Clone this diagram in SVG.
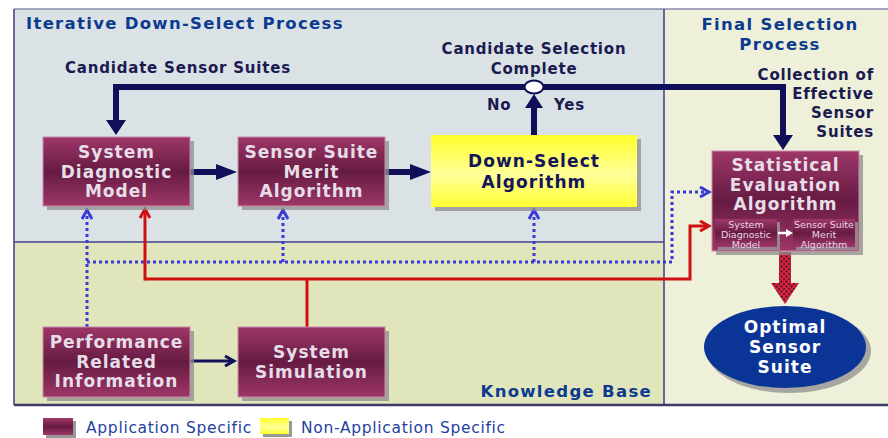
<svg xmlns="http://www.w3.org/2000/svg" width="888" height="438" viewBox="0 0 888 438">
<defs>
<linearGradient id="gp" x1="0" y1="0" x2="0" y2="1">
<stop offset="0" stop-color="#9e3769"/><stop offset="0.5" stop-color="#661b42"/><stop offset="1" stop-color="#9e3769"/>
</linearGradient>
<linearGradient id="gy" x1="0" y1="0" x2="0" y2="1">
<stop offset="0" stop-color="#ffff2a"/><stop offset="0.55" stop-color="#ffff9a"/><stop offset="1" stop-color="#ffff30"/>
</linearGradient>
<pattern id="dots" width="5" height="5" patternUnits="userSpaceOnUse">
<rect width="5" height="5" fill="#e0202a"/><circle cx="1.5" cy="1.5" r="1.1" fill="#1a1a60"/><circle cx="4" cy="4" r="0.9" fill="#1a1a60"/>
</pattern>
<marker id="chevB" markerWidth="14" markerHeight="12" refX="11" refY="6" orient="auto" markerUnits="userSpaceOnUse">
<path d="M2,1 L11,6 L2,11" fill="none" stroke="#3a3ad8" stroke-width="3"/>
</marker>
<marker id="chevR" markerWidth="14" markerHeight="12" refX="11" refY="6" orient="auto" markerUnits="userSpaceOnUse">
<path d="M2,1 L11,6 L2,11" fill="none" stroke="#d01010" stroke-width="3"/>
</marker>
<marker id="chevN" markerWidth="14" markerHeight="12" refX="11" refY="6" orient="auto" markerUnits="userSpaceOnUse">
<path d="M2,1 L11,6 L2,11" fill="none" stroke="#10105a" stroke-width="3"/>
</marker>
</defs>
<style>
.box{fill:url(#gp);stroke:#c98aa8;stroke-width:1}
.sh{fill:#8c8c8c;opacity:0.75}
.bt{font-family:"DejaVu Sans",Verdana,sans-serif;font-weight:bold;font-size:17px;letter-spacing:1px;fill:#e6dde6;text-anchor:middle}
.yt{font-family:"DejaVu Sans",Verdana,sans-serif;font-weight:bold;font-size:17px;letter-spacing:1.1px;fill:#15155a;text-anchor:middle}
.st{font-family:"DejaVu Sans",Verdana,sans-serif;font-size:9.5px;fill:#e6d6e2;text-anchor:middle}
.lb{font-family:"DejaVu Sans",Verdana,sans-serif;font-weight:bold;font-size:15px;letter-spacing:0.8px;fill:#1a1a50}
.tt{font-family:"DejaVu Sans",Verdana,sans-serif;font-weight:bold;font-size:16.5px;letter-spacing:1.3px;fill:#0c3a8e}
.lg{font-family:"DejaVu Sans",Verdana,sans-serif;font-size:15.5px;letter-spacing:0.7px;fill:#1f3fa0}
.thick{fill:none;stroke:#10105a;stroke-width:6}
.dot{fill:none;stroke:#3a3ad8;stroke-width:3;stroke-dasharray:3 3}
.red{fill:none;stroke:#d01010;stroke-width:3}
</style>
<rect width="888" height="438" fill="#ffffff"/>
<g id="panels">
<rect x="664" y="9" width="230" height="396" fill="#eef0da"/>
<rect x="14" y="9" width="650" height="233" fill="#dbe2e6"/>
<rect x="14" y="243" width="650" height="162" fill="#e1e5bb"/>
<line x1="14" y1="9" x2="888" y2="9" stroke="#8a8ab0" stroke-width="1.5"/>
<line x1="14" y1="9" x2="14" y2="405" stroke="#3c3c80" stroke-width="1.5"/>
<line x1="664" y1="9" x2="664" y2="405" stroke="#3c3c80" stroke-width="1.5"/>
<line x1="14" y1="242" x2="664" y2="242" stroke="#3c3c80" stroke-width="1.5"/>
<line x1="14" y1="405" x2="888" y2="405" stroke="#3c3c6a" stroke-width="2.5"/>
<text class="tt" x="26" y="29">Iterative Down-Select Process</text>
<text class="tt" x="780" y="30" text-anchor="middle">Final Selection</text>
<text class="tt" x="780" y="50" text-anchor="middle">Process</text>
<text class="tt" x="652" y="397" text-anchor="end">Knowledge Base</text>
</g>
<g id="labels">
<text class="lb" x="65" y="73">Candidate Sensor Suites</text>
<text class="lb" x="534" y="54" text-anchor="middle">Candidate Selection</text>
<text class="lb" x="534" y="74" text-anchor="middle">Complete</text>
<text class="lb" x="487" y="110">No</text>
<text class="lb" x="554" y="110">Yes</text>
<text class="lb" x="874" y="80" text-anchor="end">Collection of</text>
<text class="lb" x="874" y="99" text-anchor="end">Effective</text>
<text class="lb" x="874" y="118" text-anchor="end">Sensor</text>
<text class="lb" x="874" y="137" text-anchor="end">Suites</text>
</g>
<g id="connectors">
<path class="thick" d="M116,121 V87 H783 V136"/>
<path d="M106,120 L126,120 L116,135 Z" fill="#10105a"/>
<path d="M773,135 L793,135 L783,150 Z" fill="#10105a"/>
<path class="thick" d="M534,135 V106"/>
<path d="M525,108 L543,108 L534,94 Z" fill="#10105a"/>
<ellipse cx="534" cy="87" rx="9.5" ry="6.5" fill="#ffffff" stroke="#10105a" stroke-width="2"/>
<path class="thick" d="M190,172 H218" stroke-width="5"/>
<path d="M216,164 L237,172 L216,180 Z" fill="#10105a"/>
<path class="thick" d="M385,172 H412" stroke-width="5"/>
<path d="M410,164 L431,172 L410,180 Z" fill="#10105a"/>
<path d="M190,361 H234" fill="none" stroke="#10105a" stroke-width="3" marker-end="url(#chevN)"/>
<path class="dot" d="M87,327 V210" marker-end="url(#chevB)"/>
<path class="dot" d="M87,262 H672 V192 H709" marker-end="url(#chevB)"/>
<path class="dot" d="M283,262 V210" marker-end="url(#chevB)"/>
<path class="dot" d="M534,262 V210" marker-end="url(#chevB)"/>
<path class="red" d="M145,279 H690 V226 H709" marker-end="url(#chevR)"/>
<path class="red" d="M145,280.5 V209" marker-end="url(#chevR)"/>
<path class="red" d="M307,279 V327"/>
<path d="M779,252 H791 V283 H799 L785,304 L771,283 H779 Z" fill="url(#dots)"/>
</g>
<g id="sdm">
<rect class="sh" x="47" y="141" width="147" height="69"/>
<rect class="box" x="43" y="137" width="147" height="69"/>
<text class="bt" x="116.5" y="158">System</text>
<text class="bt" x="116.5" y="178">Diagnostic</text>
<text class="bt" x="116.5" y="197">Model</text>
</g>
<g id="ssma">
<rect class="sh" x="242" y="141" width="147" height="69"/>
<rect class="box" x="238" y="137" width="147" height="69"/>
<text class="bt" x="311.5" y="158">Sensor Suite</text>
<text class="bt" x="311.5" y="178">Merit</text>
<text class="bt" x="311.5" y="197">Algorithm</text>
</g>
<g id="dsa">
<rect class="sh" x="435" y="139" width="206" height="72"/>
<rect x="431" y="135" width="206" height="72" fill="url(#gy)"/>
<text class="yt" x="534" y="167">Down-Select</text>
<text class="yt" x="534" y="188">Algorithm</text>
</g>
<g id="sea">
<rect class="sh" x="716" y="155" width="147" height="100"/>
<rect class="box" x="712" y="151" width="147" height="100"/>
<text class="bt" x="785.5" y="171" font-size="18">Statistical</text>
<text class="bt" x="785.5" y="191" font-size="18">Evaluation</text>
<text class="bt" x="785.5" y="210" font-size="18">Algorithm</text>
<rect x="718" y="222" width="62" height="28" fill="#999" opacity="0.8"/>
<rect x="715" y="219" width="62" height="28" fill="url(#gp)"/>
<rect x="796" y="222" width="62" height="28" fill="#999" opacity="0.8"/>
<rect x="793" y="219" width="62" height="28" fill="url(#gp)"/>
<text class="st" x="746" y="228">System</text>
<text class="st" x="746" y="238">Diagnostic</text>
<text class="st" x="746" y="248">Model</text>
<text class="st" x="824" y="228">Sensor Suite</text>
<text class="st" x="824" y="238">Merit</text>
<text class="st" x="824" y="248">Algorithm</text>
<path d="M778,233 H787" stroke="#ffffff" stroke-width="2.5"/>
<path d="M786,229 L793,233 L786,237 Z" fill="#ffffff"/>
</g>
<g id="pri">
<rect class="sh" x="47" y="331" width="147" height="70"/>
<rect class="box" x="43" y="327" width="147" height="70"/>
<text class="bt" x="116.5" y="348">Performance</text>
<text class="bt" x="116.5" y="368">Related</text>
<text class="bt" x="116.5" y="387">Information</text>
</g>
<g id="ss">
<rect class="sh" x="242" y="331" width="147" height="70"/>
<rect class="box" x="238" y="327" width="147" height="70"/>
<text class="bt" x="311.5" y="358">System</text>
<text class="bt" x="311.5" y="378">Simulation</text>
</g>
<g id="oss">
<ellipse cx="789" cy="351" rx="82" ry="42" fill="#888" opacity="0.7"/>
<ellipse cx="785" cy="347" rx="81" ry="41" fill="#0a3596"/>
<text class="bt" x="785" y="333" style="fill:#ffffff">Optimal</text>
<text class="bt" x="785" y="353" style="fill:#ffffff">Sensor</text>
<text class="bt" x="785" y="373" style="fill:#ffffff">Suite</text>
</g>
<g id="legend">
<rect x="46" y="421" width="30" height="17" fill="#999"/>
<rect x="43" y="418" width="30" height="17" fill="url(#gp)"/>
<text class="lg" x="86" y="433">Application Specific</text>
<rect x="263" y="421" width="29" height="16" fill="#999"/>
<rect x="260" y="418" width="29" height="16" fill="url(#gy)"/>
<text class="lg" x="301" y="433">Non-Application Specific</text>
</g>
</svg>
